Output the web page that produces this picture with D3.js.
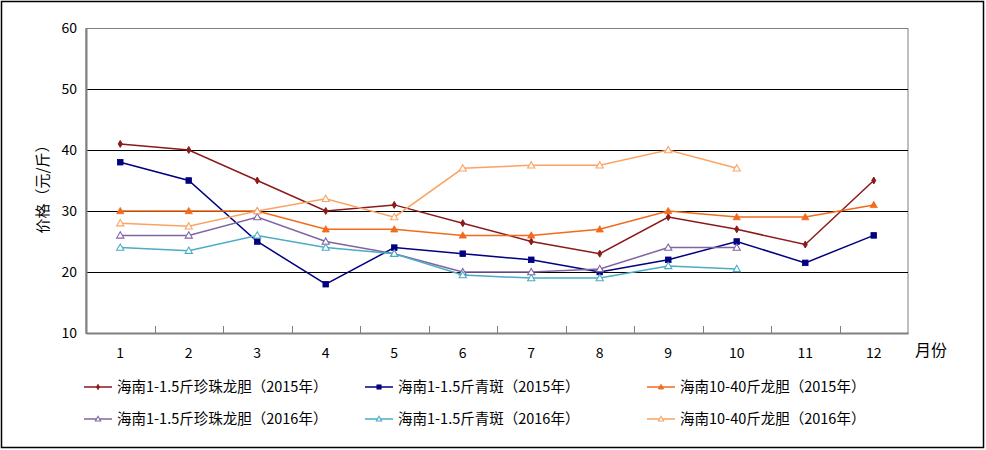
<!DOCTYPE html>
<html>
<head>
<meta charset="utf-8">
<script src="https://cdn.jsdelivr.net/npm/d3@7"></script>
<style>
body{margin:0;background:#fff;}
svg text{font-family:"SimSun","Noto Sans CJK SC",sans-serif;}
</style>
</head>
<body>
<svg id="chart" width="986" height="450"></svg>
<script>
var months=["1","2","3","4","5","6","7","8","9","10","11","12"];
var yTicks=[10,20,30,40,50,60];

var zhuLong2015=[41,40,35,30,31,28,25,23,29,27,24.5,35];
var qingBan2015=[38,35,25,18,24,23,22,20,22,25,21.5,26];
var longDan2015=[30,30,30,27,27,26,26,27,30,29,29,31];
var zhuLong2016=[26,26,29,25,23,20,20,20.5,24,24];
var qingBan2016=[24,23.5,26,24,23,19.5,19,19,21,20.5];
var longDan2016=[28,27.5,30,32,29,37,37.5,37.5,40,37];

var seriesNames=["海南1-1.5斤珍珠龙胆（2015年）","海南1-1.5斤青斑（2015年）","海南10-40斤龙胆（2015年）",
    "海南1-1.5斤珍珠龙胆（2016年）","海南1-1.5斤青斑（2016年）","海南10-40斤龙胆（2016年）"];

var series=[
    {name:seriesNames[0],values:zhuLong2015,color:"#8B1A1A",marker:"diamond"},
    {name:seriesNames[1],values:qingBan2015,color:"#000080",marker:"square"},
    {name:seriesNames[2],values:longDan2015,color:"#F26A1B",marker:"triangleFill"},
    {name:seriesNames[3],values:zhuLong2016,color:"#8064A2",marker:"triangleOpen"},
    {name:seriesNames[4],values:qingBan2016,color:"#4BACC6",marker:"triangleOpen"},
    {name:seriesNames[5],values:longDan2016,color:"#F9A464",marker:"triangleOpen"}
];

var svg=d3.select("#chart");
var plotLeft=86,plotRight=908,plotTop=28,plotBottom=333;

// outer frame
svg.append("rect").attr("x",1.5).attr("y",1.5).attr("width",982).attr("height",446)
    .attr("fill","#fff").attr("stroke","#000").attr("stroke-width",1.5);

var x=d3.scaleBand().domain(months).range([plotLeft,plotRight]);
var y=d3.scaleLinear().domain([10,60]).range([plotBottom,plotTop]);

// plot area border
svg.append("rect").attr("x",plotLeft).attr("y",plotTop+0.5).attr("width",plotRight-plotLeft).attr("height",plotBottom-plotTop)
    .attr("fill","none").attr("stroke","#808080").attr("stroke-width",1);

// gridlines
svg.append("g").selectAll("line").data(yTicks.filter(function(d){return d>10&&d<60;}))
    .enter().append("line")
    .attr("x1",plotLeft).attr("x2",plotRight)
    .attr("y1",function(d){return y(d)+0.5;}).attr("y2",function(d){return y(d)+0.5;})
    .attr("stroke","#000").attr("stroke-width",1);

// y axis
var yAxis=svg.append("g").attr("transform","translate("+plotLeft+",0)")
    .call(d3.axisLeft(y).tickValues(yTicks).tickSize(0).tickPadding(9));
yAxis.select(".domain").attr("stroke","#808080").attr("stroke-width",2);
yAxis.selectAll("text").attr("font-size","14px").attr("fill","#000");

// x axis
var xAxis=svg.append("g").attr("transform","translate(0,"+plotBottom+")")
    .call(d3.axisBottom(x).tickSize(0).tickPadding(15));
xAxis.select(".domain").attr("stroke","#808080").attr("stroke-width",2);
xAxis.selectAll("text").attr("font-size","14px").attr("fill","#000");
// inner tick marks at category boundaries
svg.append("g").selectAll("line").data(months.slice(1)).enter().append("line")
    .attr("x1",function(d){return Math.round(x(d))+0.5;}).attr("x2",function(d){return Math.round(x(d))+0.5;})
    .attr("y1",plotBottom).attr("y2",plotBottom-7)
    .attr("stroke","#808080").attr("stroke-width",1);

// axis titles
svg.append("text").attr("transform","translate(48,"+((plotTop+plotBottom)/2+5)+") rotate(-90)")
    .attr("text-anchor","middle").attr("font-size","15px").text("价格（元/斤）");
svg.append("text").attr("x",915).attr("y",356).attr("font-size","16px").text("月份");

function drawMarker(g,type,color,cx,cy,k){
    k=k||1;
    if(type==="diamond"){
        g.append("path").attr("d",d3.symbol(d3.symbolDiamond,14*k*k)()).attr("transform","translate("+cx+","+cy+")")
            .attr("fill",color).attr("stroke",color);
    }else if(type==="square"){
        var h=2.8*k;
        g.append("rect").attr("x",cx-h).attr("y",cy-h).attr("width",2*h).attr("height",2*h)
            .attr("fill",color).attr("stroke",color).attr("stroke-width",0.8);
    }else{
        var t=3.6*k;
        g.append("path").attr("d","M"+cx+","+(cy-t)+"L"+(cx+t)+","+(cy+t*0.75)+"L"+(cx-t)+","+(cy+t*0.75)+"Z")
            .attr("fill",type==="triangleFill"?color:"#fff").attr("stroke",color)
            .attr("stroke-width",type==="triangleFill"?0.8:1.1);
    }
}

var line=d3.line()
    .x(function(d,i){return x(months[i])+x.bandwidth()/2;})
    .y(function(d){return y(d);});

series.forEach(function(s){
    var g=svg.append("g");
    g.append("path").attr("d",line(s.values)).attr("fill","none")
        .attr("stroke",s.color).attr("stroke-width",1.5);
    s.values.forEach(function(v,i){
        drawMarker(g,s.marker,s.color,x(months[i])+x.bandwidth()/2,y(v));
    });
});

// legend
var legendCols=[84,365,647],legendRows=[387,419];
series.forEach(function(s,i){
    var lx=legendCols[i%3],ly=legendRows[Math.floor(i/3)];
    var g=svg.append("g");
    g.append("line").attr("x1",lx).attr("x2",lx+28).attr("y1",ly).attr("y2",ly)
        .attr("stroke",s.color).attr("stroke-width",1.5);
    drawMarker(g,s.marker,s.color,lx+14,ly,0.75);
    g.append("text").attr("x",lx+33).attr("y",ly+5).attr("font-size","14.5px").text(s.name);
});
</script>
</body>
</html>
